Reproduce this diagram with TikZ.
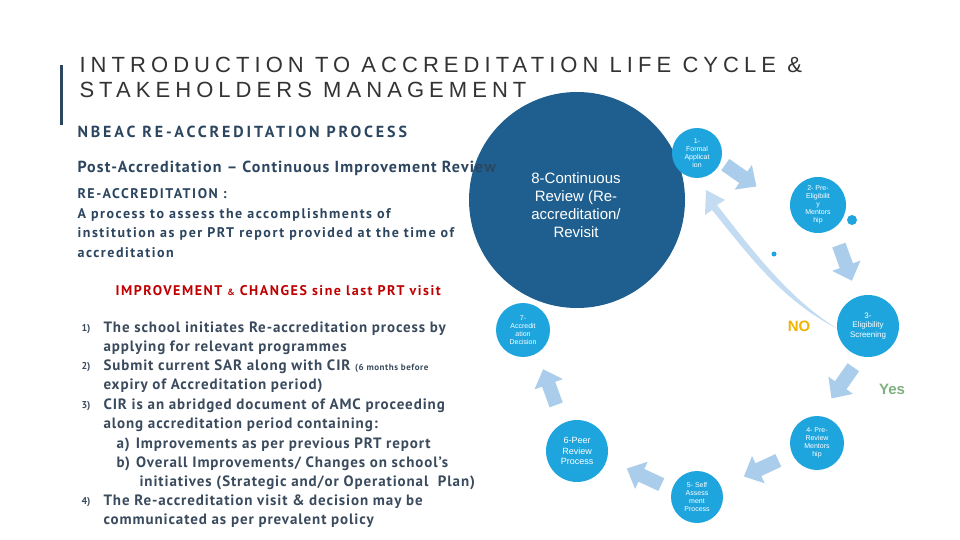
\documentclass[tikz,border=0pt]{standalone}
\usepackage{fontspec}
\setmainfont{PT Sans}
\newfontfamily\tfont{Liberation Sans}
\newfontfamily\ttlfont[LetterSpace=23]{Liberation Sans}
\newfontfamily\hA[LetterSpace=18]{PT Sans}
\newfontfamily\hB[LetterSpace=7]{PT Sans}
\newfontfamily\hC[LetterSpace=11]{PT Sans}
\newfontfamily\hD[LetterSpace=6]{PT Sans}
\usetikzlibrary{calc}
\definecolor{navy}{HTML}{1F5F8F}
\definecolor{cyanc}{HTML}{1FA5DE}
\definecolor{parr}{HTML}{A9CDEB}
\definecolor{txt}{HTML}{3B4B5E}
\definecolor{hd}{HTML}{2C4660}
\definecolor{redc}{HTML}{C00000}
\definecolor{noc}{HTML}{F0B400}
\definecolor{yesc}{HTML}{7FB07F}
\tikzset{
 stepc/.style={circle,fill=cyanc,text=white,inner sep=0pt,align=center,font=\tfont\fontsize{7}{8}\selectfont},
 lt/.style={anchor=west,text=txt,font=\hD\bfseries\fontsize{15}{17}\selectfont},
}
\newcommand{\barrow}[3]{\fill[parr,shift={(#1,#2)},rotate=#3] (-18,-7) -- (4,-7) -- (4,-15) -- (20,0) -- (4,15) -- (4,7) -- (-18,7) -- cycle;}
\begin{document}
\begin{tikzpicture}[x=1pt,y=-1pt]
\useasboundingbox[fill=white] (0,0) rectangle (960,540);
\fill[hd] (60,65) rectangle (63,125);
\node[anchor=west,text=black!80,font=\ttlfont\fontsize{22}{22}\selectfont] (t1) at (76,65) {INTRODUCTION TO ACCREDITATION LIFE CYCLE \&};
\node[anchor=west,text=black!80,font=\ttlfont\fontsize{22}{22}\selectfont] (t2) at (76,90) {STAKEHOLDERS MANAGEMENT};
\node[anchor=west,text=hd,font=\hA\bfseries\fontsize{16}{18}\selectfont] (h1) at (74,132) {NBEAC RE-ACCREDITATION PROCESS};
% big circle
\node[circle,fill=navy,minimum size=216pt,inner sep=0pt] (c8) at (577,200) {};
\node[text=white,align=center,font=\tfont\fontsize{15}{18}\selectfont] (c8t) at (576,205) {8-Continuous\\Review (Re-\\accreditation/\\Revisit};
\node[anchor=west,text=hd,font=\hB\bfseries\fontsize{16}{18}\selectfont] (h2) at (74,168) {Post-Accreditation – Continuous Improvement Review};
\node[anchor=north west,text=hd,align=left,font=\hC\bfseries\fontsize{14}{19.5}\selectfont] (ra) at (74,185) {RE-ACCREDITATION :\\A process to assess the accomplishments of\\institution as per PRT report provided at the time of\\accreditation};
% arrows
\barrow{740}{175}{-35}
\barrow{845}{262}{-70}
\barrow{843}{382}{-125}
\barrow{762}{468}{-155}
\barrow{645}{477}{-205}
\barrow{550}{388}{-250}
% curved back arrow
\fill[parr!70] (838,329) .. controls (780,300) and (745,250) .. (712,210) -- (705,215) -- (706,190) -- (725,200) -- (717,205) .. controls (752,250) and (790,300) .. (838,329) -- cycle;
% steps
\node[stepc,minimum size=50pt] (s1) at (697,153) {1-\\Formal\\Applicat\\ion};
\node[stepc,minimum size=56pt] (s2) at (818,205) {2- Pre-\\Eligibilit\\y\\Mentors\\hip};
\node[stepc,minimum size=62pt,font=\tfont\fontsize{8}{9.5}\selectfont] (s3) at (868,326) {3-\\Eligibility\\Screening};
\node[stepc,minimum size=54pt] (s4) at (817,443) {4- Pre-\\Review\\Mentors\\hip};
\node[stepc,minimum size=52pt] (s5) at (697,497) {5- Self\\Assess\\ment\\Process};
\node[stepc,minimum size=62pt,font=\tfont\fontsize{9}{10.5}\selectfont] (s6) at (577,451) {6-Peer\\Review\\Process};
\node[stepc,minimum size=54pt] (s7) at (523,330) {7-\\Accredit\\ation\\Decision};
\fill[cyanc] (852,220) circle (5);
\fill[cyanc] (774,254) circle (2.5);
\node[text=noc,font=\tfont\bfseries\fontsize{15}{16}\selectfont] (no) at (799,326) {NO};
\node[text=yesc,font=\tfont\bfseries\fontsize{15}{16}\selectfont] (yes) at (892,389) {Yes};
% list
\node[anchor=west,text=redc,font=\hC\bfseries\fontsize{14}{16}\selectfont] (ih) at (112,291) {IMPROVEMENT {\small\&} CHANGES sine last PRT visit};
\foreach \n/\y in {1/329,2/367,3/406,4/502}{\node[anchor=west,text=txt,font=\bfseries\fontsize{10}{12}\selectfont] at (78,\y) {\n)};}
\node[lt] (l1) at (100,329) {The school initiates Re-accreditation process by};
\node[lt] (l2) at (100,348) {applying for relevant programmes};
\node[lt] (l3) at (100,367) {Submit current SAR along with CIR {\small(6 months before}};
\node[lt] (l4) at (100,386) {expiry of Accreditation period)};
\node[lt] (l5) at (100,406) {CIR is an abridged document of AMC proceeding};
\node[lt] (l6) at (100,425) {along accreditation period containing:};
\node[lt] (l7) at (113,445) {a)\hspace{6pt}Improvements as per previous PRT report};
\node[lt] (l8) at (113,464) {b)\hspace{6pt}Overall Improvements/ Changes on school’s};
\node[lt] (l9) at (136,483) {initiatives (Strategic and/or Operational \ Plan)};
\node[lt] (l10) at (100,502) {The Re-accreditation visit \& decision may be};
\node[lt] (l11) at (100,521) {communicated as per prevalent policy};
\end{tikzpicture}
\end{document}
